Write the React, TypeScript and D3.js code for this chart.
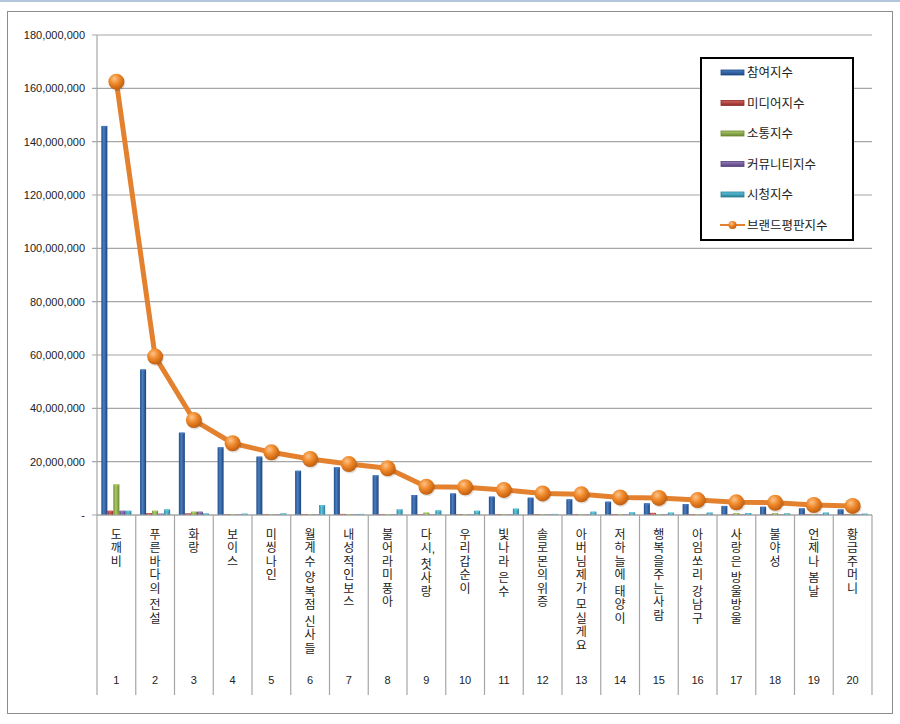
import React from "react";
import * as d3 from "d3";

const ranks = ["1","2","3","4","5","6","7","8","9","10","11","12","13","14","15","16","17","18","19","20"];
const titles = ["도깨비","푸른바다의 전설","화랑","보이스","미씽나인","월계수 양복점 신사들","내성적인보스","불어라미풍아","다시, 첫사랑","우리갑순이","빛나라 은수","솔로몬의위증","아버님제가 모실게요","저하늘에 태양이","행복을주는사람","아임쏘리 강남구","사랑은 방울방울","불야성","언제나 봄날","황금주머니"];

const seriesNames = ["참여지수","미디어지수","소통지수","커뮤니티지수","시청지수"];
const participation = [145900000,54600000,30900000,25400000,21900000,16600000,17900000,14900000,7500000,8100000,6900000,6500000,5900000,5000000,4400000,4100000,3400000,3100000,2500000,2100000];
const media = [1600000,700000,600000,300000,300000,300000,400000,300000,300000,300000,300000,300000,300000,300000,800000,300000,300000,300000,300000,300000];
const communication = [11500000,1600000,1250000,300000,300000,300000,300000,300000,900000,300000,300000,300000,300000,300000,300000,300000,750000,700000,300000,300000];
const community = [1600000,500000,1250000,200000,200000,200000,200000,200000,200000,200000,200000,200000,200000,200000,200000,200000,200000,200000,200000,200000];
const viewing = [1600000,2100000,600000,500000,600000,3750000,400000,2100000,1750000,1600000,2400000,400000,1250000,1000000,900000,900000,750000,600000,900000,500000];
const brandName = "브랜드평판지수";
const brand = [162500000,59400000,35600000,26900000,23500000,21000000,19100000,17500000,10600000,10400000,9400000,8100000,7750000,6600000,6400000,5600000,4750000,4600000,3750000,3400000];

const yTicks = [0,20000000,40000000,60000000,80000000,100000000,120000000,140000000,160000000,180000000];

const seriesValues = [participation, media, communication, community, viewing];
const seriesColors = [
  ["#1f4a85", "#4a7dc2", "#1c4479"],
  ["#8e2b29", "#d4625e", "#8e2b29"],
  ["#6b8731", "#abcc66", "#6b8731"],
  ["#56417a", "#977bbb", "#56417a"],
  ["#2a7f95", "#5fc6df", "#2a7f95"],
];

const W = 900, H = 724;
const left = 97, right = 872, top = 35, bottom = 515;

export default function App() {
  const x = d3.scaleBand<string>().domain(ranks).range([left, right]).padding(0);
  const bw = x.bandwidth();
  const xi = d3.scaleBand<string>().domain(seriesNames).range([0, bw]).paddingInner(0).paddingOuter(0.725);
  const y = d3.scaleLinear().domain([0, 180000000]).range([bottom, top]);
  const fmt = (v: number) => (v === 0 ? "-" : d3.format(",")(v));
  const cx = (r: string) => (x(r) as number) + bw / 2;

  const line = d3.line<number>().x((_, i) => cx(ranks[i])).y((v) => y(v));

  const fontKR = "'Noto Sans CJK KR', 'Noto Sans', sans-serif";
  const fontLbl = "'Liberation Sans', 'Noto Sans CJK KR', sans-serif";
  const fontNum = "'Liberation Sans', Arial, sans-serif";

  const verticalSpans = (t: string, xc: number) => {
    const spans: React.ReactNode[] = [];
    let yy = 538.5;
    let lastY = yy;
    Array.from(t).forEach((ch, k) => {
      if (ch === " ") {
        spans.push(<tspan key={k} x={xc} y={yy}>{" "}</tspan>);
        yy += 3;
        return;
      }
      if (ch === ",") {
        spans.push(<tspan key={k} x={xc + 7} y={lastY + 1}>,</tspan>);
        return;
      }
      spans.push(<tspan key={k} x={xc} y={yy}>{ch}</tspan>);
      lastY = yy;
      yy += 13.5;
    });
    return spans;
  };

  return (
    <svg width={W} height={H} style={{ position: "absolute", left: 0, top: 0, background: "#fff" }}>
      <defs>
        {seriesColors.map((c, i) => (
          <linearGradient key={i} id={`bg${i}`} x1="0" x2="1" y1="0" y2="0">
            <stop offset="0%" stopColor={c[0]} />
            <stop offset="40%" stopColor={c[1]} />
            <stop offset="100%" stopColor={c[2]} />
          </linearGradient>
        ))}
        {seriesColors.map((c, i) => (
          <linearGradient key={`l${i}`} id={`lg${i}`} x1="0" x2="0" y1="0" y2="1">
            <stop offset="0%" stopColor={c[1]} />
            <stop offset="100%" stopColor={c[0]} />
          </linearGradient>
        ))}
        <radialGradient id="dot" cx="38%" cy="32%" r="70%">
          <stop offset="0%" stopColor="#fcc48a" />
          <stop offset="45%" stopColor="#f08a2c" />
          <stop offset="100%" stopColor="#c05c0c" />
        </radialGradient>
      </defs>
      <rect x={0} y={0} width={W} height={2} fill="#b3c6dc" />
      <rect x={7.5} y={11.5} width={885} height={702} fill="#fff" stroke="#8c8c8c" strokeWidth={1} />

      {/* gridlines and y axis */}
      {yTicks.map((t) => (
        <g key={t}>
          <line x1={92} x2={right} y1={y(t)} y2={y(t)} stroke="#a6a6a6" strokeWidth={1.2} />
          <text x={85} y={y(t) + 4} textAnchor="end" fontSize={11} fontFamily={fontNum} fill="#222">{fmt(t)}</text>
        </g>
      ))}
      <line x1={left} x2={left} y1={top} y2={bottom} stroke="#a6a6a6" strokeWidth={1.2} />

      {/* category separators */}
      {ranks.map((r) => (
        <line key={r} x1={x(r) as number} x2={x(r) as number} y1={bottom} y2={695} stroke="#a6a6a6" strokeWidth={1.2} />
      ))}
      <line x1={right} x2={right} y1={bottom} y2={695} stroke="#a6a6a6" strokeWidth={1.2} />

      {/* bars */}
      {seriesValues.map((vals, si) => (
        <g key={si}>
          {vals.map((v, i) => {
            const bx = (x(ranks[i]) as number) + (xi(seriesNames[si]) as number);
            const by = y(v);
            const h = bottom - by;
            return (
              <g key={i}>
                <rect x={bx} y={by} width={xi.bandwidth()} height={h} fill={`url(#bg${si})`} />
                <rect x={bx + 1} y={by} width={xi.bandwidth() - 2} height={Math.min(1.5, h)} fill={seriesColors[si][1]} opacity={0.9} />
              </g>
            );
          })}
        </g>
      ))}
      <line x1={left} x2={right} y1={bottom} y2={bottom} stroke="#a6a6a6" strokeWidth={1.2} />

      {/* brand line */}
      <path d={line(brand) || ""} fill="none" stroke="#e3812f" strokeWidth={5} strokeLinejoin="round" />
      {brand.map((v, i) => (
        <g key={i}>
          <circle cx={cx(ranks[i]) + 1} cy={y(v) + 1.5} r={8} fill="#000" opacity={0.12} />
          <circle cx={cx(ranks[i])} cy={y(v)} r={8} fill="url(#dot)" />
        </g>
      ))}

      {/* category labels (vertical, stacked characters) */}
      {titles.map((t, i) => (
        <text key={i} textAnchor="middle" fontSize={12} fontFamily={fontLbl} fill="#222">
          {verticalSpans(t, cx(ranks[i]))}
        </text>
      ))}
      {ranks.map((r) => (
        <text key={r} x={cx(r)} y={684} textAnchor="middle" fontSize={11} fontFamily={fontNum} fill="#222">{r}</text>
      ))}

      {/* legend */}
      <rect x={701} y={58} width={152} height={182} fill="#fff" stroke="#000" strokeWidth={2} />
      {seriesNames.map((n, i) => {
        const ly = 72.5 + i * 30.5;
        return (
          <g key={n}>
            <rect x={721} y={ly - 2.5} width={23} height={5} fill={`url(#lg${i})`} stroke={seriesColors[i][0]} strokeWidth={0.8} />
            <text x={747} y={ly + 4.5} fontSize={12.5} fontFamily={fontKR} fill="#222">{n}</text>
          </g>
        );
      })}
      {(() => {
        const ly = 72.5 + 5 * 30.5;
        return (
          <g>
            <line x1={720} x2={745} y1={ly} y2={ly} stroke="#e3812f" strokeWidth={2} />
            <circle cx={732.5} cy={ly} r={4} fill="url(#dot)" />
            <text x={747} y={ly + 4.5} fontSize={12.5} fontFamily={fontKR} fill="#222">{brandName}</text>
          </g>
        );
      })()}
    </svg>
  );
}
